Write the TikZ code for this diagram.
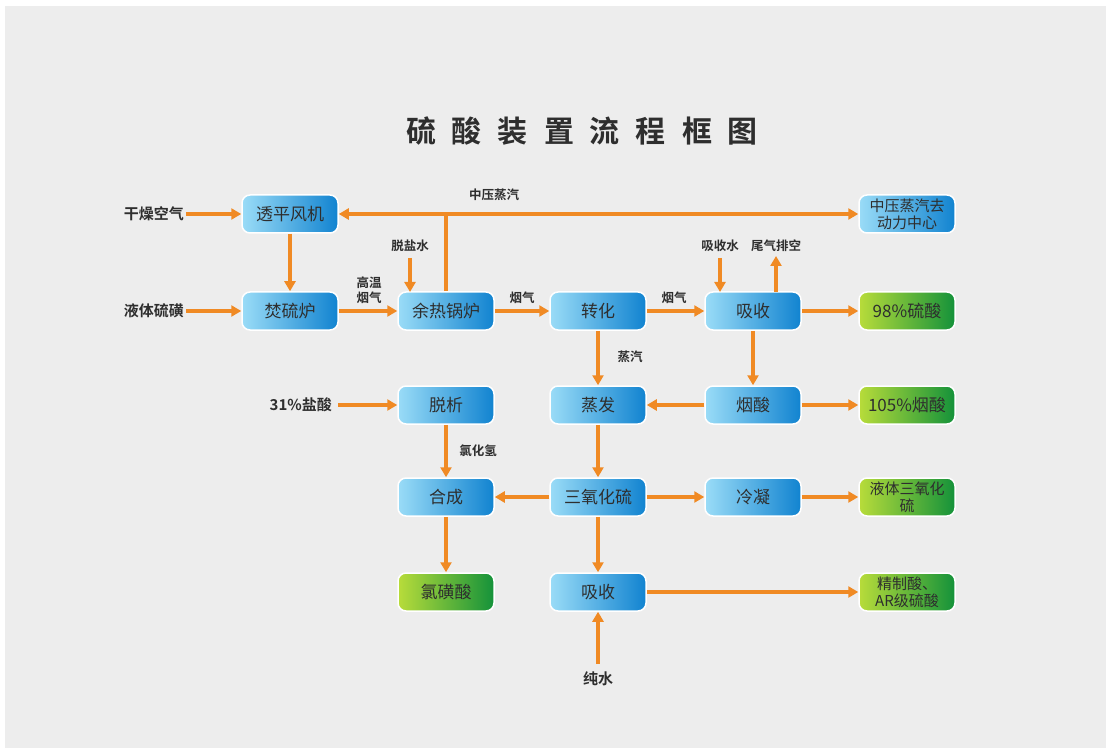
\documentclass[tikz,border=0pt]{standalone}
\usepackage{fontspec}
\setmainfont{Noto Sans CJK SC}
\newfontfamily\cjk{Noto Sans CJK SC}
\newfontfamily\cjkb{Noto Sans CJK SC Bold}
\usetikzlibrary{arrows.meta}
\definecolor{bgc}{HTML}{EDEDED}
\definecolor{orng}{HTML}{F08A24}
\definecolor{blueL}{HTML}{9ADCF7}
\definecolor{blueM}{HTML}{40AEE8}
\definecolor{blueD}{HTML}{1183D0}
\definecolor{grnL}{HTML}{B8DC3A}
\definecolor{grnM}{HTML}{6CBF2E}
\definecolor{grnD}{HTML}{14923A}
\definecolor{txt}{HTML}{2E2E2E}
\tikzset{
  box/.style={rounded corners=8pt, minimum width=96pt, minimum height=38pt, draw=white, line width=1.5pt, text=txt, font=\cjk\fontsize{17}{19}\selectfont, align=center, inner sep=1pt},
  bluebox/.style={box, left color=blueL, middle color=blueM, right color=blueD},
  greenbox/.style={box, left color=grnL, middle color=grnM, right color=grnD},
  twoline/.style={font=\cjk\fontsize{15}{17}\selectfont},
  lbl/.style={text=txt, font=\cjkb\fontsize{12.5}{15}\selectfont, align=center, inner sep=0pt},
  side/.style={text=txt, font=\cjkb\fontsize{15}{17}\selectfont, inner sep=0pt},
  flow/.style={draw=orng, line width=3.5pt, -{Triangle[length=10pt,width=11pt]}},
  plain/.style={draw=orng, line width=3.5pt}
}
\begin{document}
\begin{tikzpicture}[x=1pt,y=-1pt]
\useasboundingbox (0,0) rectangle (1108,751);
\fill[white] (0,0) rectangle (1108,751);
\fill[bgc] (5,6) rectangle (1106,748);
\node[text=txt, font=\cjkb\fontsize{30}{32}\selectfont] (title) at (582,131) {硫\hspace{16pt}酸\hspace{16pt}装\hspace{16pt}置\hspace{16pt}流\hspace{16pt}程\hspace{16pt}框\hspace{16pt}图};
% boxes
\node[bluebox] (tp) at (290,214) {透平风机};
\node[bluebox] (fl) at (290,311) {焚硫炉};
\node[bluebox] (yr) at (446,311) {余热锅炉};
\node[bluebox] (zh) at (598,311) {转化};
\node[bluebox] (xs) at (753,311) {吸收};
\node[bluebox, twoline] (zy) at (907,214) {中压蒸汽去\\动力中心};
\node[greenbox] (s98) at (907,311) {98\%硫酸};
\node[bluebox] (tx) at (446,405) {脱析};
\node[bluebox] (zf) at (598,405) {蒸发};
\node[bluebox] (ys) at (753,405) {烟酸};
\node[greenbox] (y105) at (907,405) {105\%烟酸};
\node[bluebox] (hc) at (446,497) {合成};
\node[bluebox] (so3) at (598,497) {三氧化硫};
\node[bluebox] (ln) at (753,497) {冷凝};
\node[greenbox, twoline] (yt) at (907,497) {液体三氧化\\硫};
\node[greenbox] (lh) at (446,592) {氯磺酸};
\node[bluebox] (xs2) at (598,592) {吸收};
\node[greenbox, twoline] (jz) at (907,592) {精制酸、\\AR级硫酸};
% side inputs
\node[side, anchor=east] (gk) at (184,214) {干燥空气};
\node[side, anchor=east] (yl) at (184,311) {液体硫磺};
\node[side, anchor=east] (yan) at (332,405) {31\%盐酸};
\node[side] (cs) at (598,679) {纯水};
% labels
\node[lbl] (lgw) at (369,290) {高温\\烟气};
\node[lbl] (ltys) at (410,246) {脱盐水};
\node[lbl] (lzy) at (494,195) {中压蒸汽};
\node[lbl] (lyq1) at (522,298) {烟气};
\node[lbl] (lyq2) at (674,298) {烟气};
\node[lbl] (lxsw) at (720,246) {吸收水};
\node[lbl] (lwq) at (776,246) {尾气排空};
\node[lbl] (lzq) at (630,357) {蒸汽};
\node[lbl] (llhq) at (478,451) {氯化氢};
% coordinates
\coordinate (j) at (446,214);
\coordinate (tysA) at (410,258);
\coordinate (tysB) at (410,292);
\coordinate (xswA) at (720,258);
\coordinate (xswB) at (720,292);
\coordinate (wqA) at (776,292);
\coordinate (wqB) at (776,256);
\coordinate (csA) at (598,664);
% connectors
\draw[flow] ([xshift=2pt]gk.east) -- (tp.west);
\draw[flow] ([xshift=2pt]yl.east) -- (fl.west);
\draw[flow] (tp.south) -- (fl.north);
\draw[flow] (fl.east) -- (yr.west);
\draw[flow] (tysA) -- (tysB);
\draw[plain] (yr.north) -- (j);
\draw[flow] ([xshift=2pt]j) -- (tp.east);
\draw[flow] ([xshift=-2pt]j) -- (zy.west);
\draw[flow] (yr.east) -- (zh.west);
\draw[flow] (zh.east) -- (xs.west);
\draw[flow] (xswA) -- (xswB);
\draw[flow] (wqA) -- (wqB);
\draw[flow] (xs.east) -- (s98.west);
\draw[flow] (xs.south) -- (ys.north);
\draw[flow] (zh.south) -- (zf.north);
\draw[flow] (ys.west) -- (zf.east);
\draw[flow] (ys.east) -- (y105.west);
\draw[flow] ([xshift=6pt]yan.east) -- (tx.west);
\draw[flow] (tx.south) -- (hc.north);
\draw[flow] (zf.south) -- (so3.north);
\draw[flow] (so3.west) -- (hc.east);
\draw[flow] (so3.east) -- (ln.west);
\draw[flow] (ln.east) -- (yt.west);
\draw[flow] (hc.south) -- (lh.north);
\draw[flow] (so3.south) -- (xs2.north);
\draw[flow] (csA) -- (xs2.south);
\draw[flow] (xs2.east) -- (jz.west);
\end{tikzpicture}
\end{document}
